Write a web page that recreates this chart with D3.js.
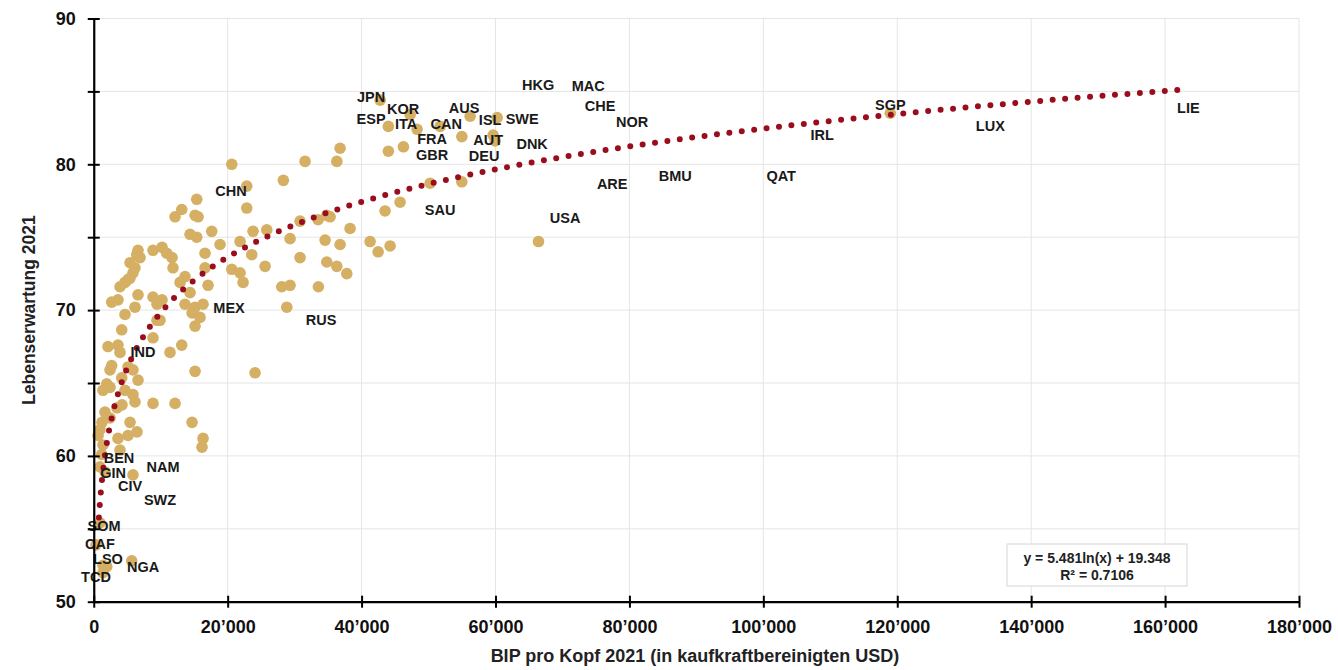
<!DOCTYPE html>
<html>
<head>
<meta charset="utf-8">
<script src="https://cdn.jsdelivr.net/npm/d3@7.9.0/dist/d3.min.js"></script>
<style>
  body { margin: 0; background: #fff; }
  svg text { font-family: 'Liberation Sans', Arial, sans-serif; }
</style>
</head>
<body>
<div id="chart"></div>
<script>
// GDP per capita (PPP, USD) and life expectancy
const gdp = [
  36790, 36300, 31560, 20610, 28320, 22850, 15380, 44000, 46250, 44000,
  42770, 47250, 48290, 51730, 54970, 56210, 60250, 59650, 59950, 50240,
  54970, 43510, 45750, 38280, 34800, 35300, 33500, 30810, 23790, 25840,
  29320, 34550, 36790, 41270, 42470, 44260, 23600, 30810, 25590, 34800,
  36300, 37790, 28080, 29320, 33550, 28830, 66420, 118960, 22850, 13140,
  12140, 15130, 15580, 14380, 15380, 17620, 18860, 21850, 6610, 6420,
  6910, 8850, 10200, 10900, 11690, 16620, 6160, 5860, 5420, 5420,
  11840, 16620, 20610, 21850, 22300, 4670, 3920, 5120, 13630, 17070,
  12890, 6610, 3620, 2680, 8850, 10200, 9450, 14380, 6160, 4670,
  13630, 15130, 16320, 14680, 15870, 15130, 9450, 9900, 4180, 8850,
  2130, 3620, 3920, 11390, 13140, 2680, 2430, 5120, 5860, 4180,
  6610, 15130, 24090, 1940, 1380, 2430, 4670, 5860, 6160, 8850,
  12140, 1680, 3470, 4220, 2430, 1230, 5420, 14680, 930, 640,
  3620, 5120, 6460, 16320, 16170, 1380, 3920, 1190, 930, 1680,
  5860, 930, 340, 1380, 1940, 5670, 1380
];
const lifeExp = [
  81.1, 80.2, 80.2, 80.0, 78.9, 78.5, 77.6, 80.9, 81.2, 82.6,
  84.4, 83.4, 82.4, 82.6, 81.9, 83.3, 83.2, 82.0, 81.6, 78.7,
  78.8, 76.8, 77.4, 75.6, 76.5, 76.4, 76.2, 76.1, 75.4, 75.5,
  74.9, 74.8, 74.5, 74.7, 74.0, 74.4, 73.8, 73.6, 73.0, 73.3,
  73.0, 72.5, 71.6, 71.7, 71.6, 70.2, 74.7, 83.5, 77.0, 76.9,
  76.4, 76.5, 76.4, 75.2, 75.0, 75.4, 74.5, 74.7, 74.1, 73.8,
  73.6, 74.1, 74.3, 73.9, 73.6, 73.9, 72.9, 72.55, 72.2, 73.25,
  72.9, 72.9, 72.8, 72.55, 71.9, 71.9, 71.6, 72.1, 72.3, 71.7,
  71.9, 71.05, 70.7, 70.55, 70.9, 70.7, 70.4, 71.2, 70.2, 69.7,
  70.4, 70.2, 70.4, 69.8, 69.5, 68.9, 69.3, 69.3, 68.65, 68.1,
  67.5, 67.6, 67.1, 67.1, 67.6, 66.2, 65.9, 66.1, 65.9, 65.35,
  65.2, 65.8, 65.7, 64.95, 64.5, 64.7, 64.5, 64.2, 63.7, 63.6,
  63.6, 63.0, 63.3, 63.5, 62.6, 62.3, 62.3, 62.3, 61.8, 61.4,
  61.2, 61.4, 61.65, 61.2, 60.6, 60.75, 60.4, 60.1, 59.25, 58.9,
  58.7, 55.4, 53.9, 52.5, 52.4, 52.8, 52.0
];

// labelled countries: code and where its label sits (same units)
const labelCodes = ['JPN','KOR','ESP','ITA','CAN','AUS','ISL','SWE','FRA','GBR',
  'AUT','DEU','DNK','HKG','MAC','CHE','NOR','SGP','LUX','LIE',
  'IRL','QAT','BMU','ARE','USA','SAU','CHN','MEX','RUS','IND',
  'BEN','GIN','NAM','CIV','SWZ','SOM','CAF','LSO','NGA','TCD'];
const labelGdp = [41420, 46200, 41420, 46650, 52630, 55310, 59200, 63980, 50530, 50530,
  58900, 58300, 65470, 66370, 73840, 75630, 80410, 118960, 133900, 163480,
  108800, 102670, 86840, 77430, 70400, 51730, 20500, 20210, 33950, 7360,
  3770, 2880, 10350, 5420, 9900, 1530, 930, 2130, 7360, 340];
const labelLe = [84.64, 83.81, 83.13, 82.78, 82.78, 83.88, 83.06, 83.13, 81.76, 80.66,
  81.7, 80.6, 81.41, 85.46, 85.39, 84.02, 82.92, 84.09, 82.65, 83.88,
  82.0, 79.22, 79.22, 78.67, 76.33, 76.88, 78.19, 70.16, 69.33, 67.14,
  59.85, 58.82, 59.24, 57.94, 56.98, 55.2, 53.95, 52.93, 52.38, 51.69];

// logarithmic trend as printed on the chart
const trendA = 5.481, trendB = 19.348, trendR2 = 0.7106;
const trendFrom = 770, trendTo = 163000;

const xTicks = [0, 20000, 40000, 60000, 80000, 100000, 120000, 140000, 160000, 180000];
const yTicks = [50, 55, 60, 65, 70, 75, 80, 85, 90];
const yLabels = [50, 60, 70, 80, 90];

const width = 1338, height = 670;
const svg = d3.select('#chart').append('svg')
  .attr('width', width).attr('height', height);

const x = d3.scaleLinear().domain([0, 180000]).range([93.75, 1299]);
const y = d3.scaleLinear().domain([50, 90]).range([601.7, 18.5]);

// gridlines
svg.append('g')
  .selectAll('line')
  .data(yTicks.slice(1))
  .join('line')
  .attr('x1', x(0)).attr('x2', x(180000))
  .attr('y1', d => y(d)).attr('y2', d => y(d))
  .attr('stroke', '#e5e5e5').attr('stroke-width', 1);

svg.append('g')
  .selectAll('line')
  .data(xTicks.slice(1))
  .join('line')
  .attr('x1', d => x(d)).attr('x2', d => x(d))
  .attr('y1', y(50)).attr('y2', y(90))
  .attr('stroke', '#e5e5e5').attr('stroke-width', 1);

// dots
const points = gdp.map((g, i) => ({ g, le: lifeExp[i] }));
svg.append('g')
  .selectAll('circle')
  .data(points)
  .join('circle')
  .attr('cx', d => x(d.g))
  .attr('cy', d => y(d.le))
  .attr('r', 5.8)
  .attr('fill', '#d5af64');

// trendline (dotted)
const steps = 600;
const trendPts = d3.range(steps + 1).map(i => {
  const xv = trendFrom * Math.pow(trendTo / trendFrom, i / steps);
  return [xv, trendA * Math.log(xv) + trendB];
});
svg.append('path')
  .datum(trendPts)
  .attr('d', d3.line().x(d => x(d[0])).y(d => y(d[1])))
  .attr('fill', 'none')
  .attr('stroke', '#990d1d')
  .attr('stroke-width', 6)
  .attr('stroke-linecap', 'round')
  .attr('stroke-dasharray', '0 12.5');

// country labels
const labels = labelCodes.map((c, i) => ({ c, g: labelGdp[i], le: labelLe[i] }));
svg.append('g')
  .selectAll('text')
  .data(labels)
  .join('text')
  .attr('x', d => x(d.g))
  .attr('y', d => y(d.le))
  .attr('text-anchor', 'middle')
  .attr('dominant-baseline', 'central')
  .style('font-size', '14.5px')
  .style('font-weight', 'bold')
  .attr('fill', '#1a1a1a')
  .text(d => d.c);

// axes
const fmt = d => d3.format(',')(d).replace(/,/g, '’');
const xAxis = svg.append('g')
  .attr('transform', `translate(0,${y(50)})`)
  .call(d3.axisBottom(x).tickValues(xTicks).tickFormat(fmt).tickSizeInner(6).tickSizeOuter(0).tickPadding(13));
xAxis.select('.domain').attr('stroke', '#000').attr('stroke-width', 2.2);
xAxis.selectAll('.tick line').attr('stroke', '#000').attr('stroke-width', 2)
  .attr('y1', -6).attr('y2', 6);
xAxis.selectAll('.tick text')
  .style('font-size', '18px').style('font-weight', 'bold').attr('fill', '#111');

const yAxis = svg.append('g')
  .attr('transform', `translate(${x(0)},0)`)
  .call(d3.axisLeft(y).tickValues(yTicks)
    .tickFormat(d => yLabels.includes(d) ? d : '')
    .tickSizeInner(6).tickSizeOuter(0).tickPadding(12));
yAxis.select('.domain').attr('stroke', '#000').attr('stroke-width', 2.2);
yAxis.selectAll('.tick line').attr('stroke', '#000').attr('stroke-width', 2)
  .attr('x1', -6).attr('x2', 6);
yAxis.selectAll('.tick text')
  .style('font-size', '18px').style('font-weight', 'bold').attr('fill', '#111');

// axis titles
svg.append('text')
  .attr('x', 695).attr('y', 662)
  .attr('text-anchor', 'middle')
  .style('font-size', '18px').style('font-weight', 'bold').attr('fill', '#222')
  .text('BIP pro Kopf 2021 (in kaufkraftbereinigten USD)');

svg.append('text')
  .attr('transform', `translate(35,${(y(50) + y(90)) / 2}) rotate(-90)`)
  .attr('text-anchor', 'middle')
  .style('font-size', '17.5px').style('font-weight', 'bold').attr('fill', '#222')
  .text('Lebenserwartung 2021');

// equation box
const eq = svg.append('g');
eq.append('rect')
  .attr('x', 1007).attr('y', 544).attr('width', 180).attr('height', 42)
  .attr('fill', '#fff').attr('stroke', '#d6d6d6');
eq.append('text')
  .attr('x', 1097).attr('y', 563)
  .attr('text-anchor', 'middle')
  .style('font-size', '14px').style('font-weight', 'bold').attr('fill', '#222')
  .text(`y = ${trendA}ln(x) + ${trendB}`);
eq.append('text')
  .attr('x', 1097).attr('y', 580)
  .attr('text-anchor', 'middle')
  .style('font-size', '14px').style('font-weight', 'bold').attr('fill', '#222')
  .text(`R² = ${trendR2}`);
</script>
</body>
</html>
